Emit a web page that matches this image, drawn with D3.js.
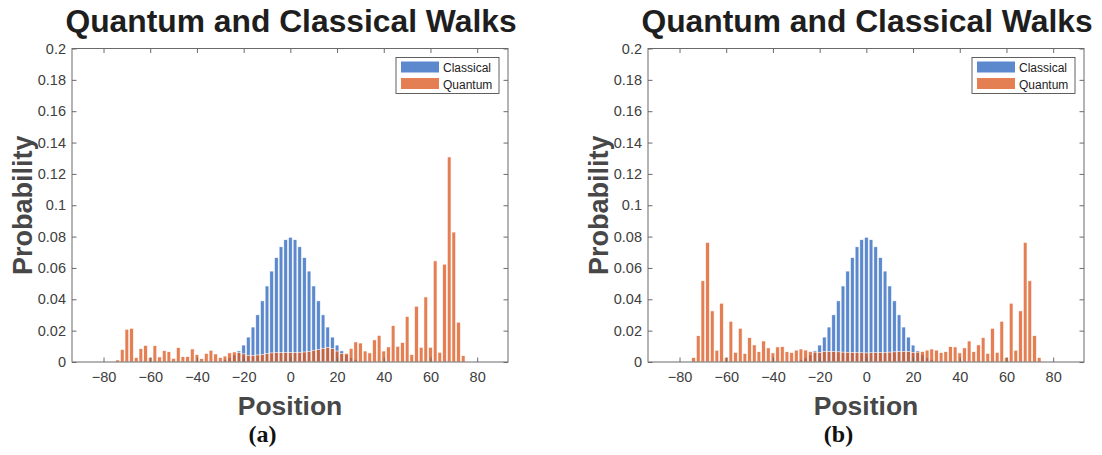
<!DOCTYPE html>
<html>
<head>
<meta charset="utf-8">
<script src="https://cdn.jsdelivr.net/npm/d3@7"></script>
<style>
  body { margin: 0; background: #fff; }
  svg { display: block; }
</style>
</head>
<body>
<svg id="chart" width="1102" height="455"></svg>
<script>
// Walker positions (only even sites are reachable after an even number of steps)
const classicalPositions = [-28, -26, -24, -22, -20, -18, -16, -14, -12, -10, -8, -6, -4, -2, 0,
  2, 4, 6, 8, 10, 12, 14, 16, 18, 20, 22, 24, 26, 28];
const classicalProb = [0.0016, 0.0027, 0.0045, 0.0071, 0.0108, 0.0159, 0.0223, 0.0301, 0.0390, 0.0485,
  0.0580, 0.0666, 0.0735, 0.0780, 0.0796, 0.0780, 0.0735, 0.0666, 0.0580, 0.0485, 0.0390, 0.0301,
  0.0223, 0.0159, 0.0108, 0.0071, 0.0045, 0.0027, 0.0016];

const quantumPositions = [-74, -72, -70, -68, -66, -64, -62, -60, -58, -56, -54, -52, -50, -48, -46,
  -44, -42, -40, -38, -36, -34, -32, -30, -28, -26, -24, -22, -20, -18, -16, -14, -12, -10, -8, -6,
  -4, -2, 0, 2, 4, 6, 8, 10, 12, 14, 16, 18, 20, 22, 24, 26, 28, 30, 32, 34, 36, 38, 40, 42, 44, 46,
  48, 50, 52, 54, 56, 58, 60, 62, 64, 66, 68, 70, 72, 74];

// (a) asymmetric initial coin state
const quantumProbA = [0.0013, 0.0080, 0.0209, 0.0215, 0.0028, 0.0085, 0.0106, 0.0030, 0.0104, 0.0032,
  0.0072, 0.0066, 0.0023, 0.0092, 0.0034, 0.0034, 0.0083, 0.0047, 0.0021, 0.0055, 0.0075, 0.0051,
  0.0028, 0.0038, 0.0058, 0.0064, 0.0060, 0.0052, 0.0043, 0.0041, 0.0045, 0.0049, 0.0053, 0.0058,
  0.0060, 0.0060, 0.0060, 0.0060, 0.0060, 0.0062, 0.0064, 0.0068, 0.0075, 0.0079, 0.0087, 0.0092,
  0.0085, 0.0070, 0.0055, 0.0055, 0.0087, 0.0128, 0.0121, 0.0070, 0.0058, 0.0141, 0.0170, 0.0070,
  0.0096, 0.0232, 0.0100, 0.0124, 0.0290, 0.0047, 0.0356, 0.0094, 0.0415, 0.0094, 0.0645, 0.0062,
  0.0624, 0.1308, 0.0829, 0.0254, 0.0040];

// (b) symmetric initial coin state
const quantumProbB = [0.0028, 0.0168, 0.0518, 0.0763, 0.0326, 0.0075, 0.0375, 0.0030, 0.0260, 0.0062,
  0.0215, 0.0055, 0.0155, 0.0109, 0.0066, 0.0134, 0.0090, 0.0058, 0.0096, 0.0098, 0.0066, 0.0060,
  0.0076, 0.0083, 0.0076, 0.0067, 0.0063, 0.0062, 0.0068, 0.0067, 0.0066, 0.0065, 0.0063, 0.0062,
  0.0061, 0.0060, 0.0059, 0.0058, 0.0059, 0.0060, 0.0061, 0.0062, 0.0063, 0.0065, 0.0066, 0.0067,
  0.0068, 0.0062, 0.0063, 0.0067, 0.0076, 0.0083, 0.0076, 0.0060, 0.0066, 0.0098, 0.0096, 0.0058,
  0.0090, 0.0134, 0.0066, 0.0109, 0.0155, 0.0055, 0.0215, 0.0062, 0.0260, 0.0030, 0.0375, 0.0075,
  0.0326, 0.0763, 0.0518, 0.0168, 0.0028];

const xTicks = [-80, -60, -40, -20, 0, 20, 40, 60, 80];
const yTicks = [0, 0.02, 0.04, 0.06, 0.08, 0.1, 0.12, 0.14, 0.16, 0.18, 0.2];
const seriesNames = ["Classical", "Quantum"];
const titleText = "Quantum and Classical Walks";
const xLabelText = "Position";
const yLabelText = "Probability";
const captions = ["(a)", "(b)"];

const COLORS = { classical: "#5C89CE", quantum: "#DC5A22" };
const QUANTUM_ALPHA = 0.78;
const AXIS_COLOR = "#6a6a6a";
const LABEL_COLOR = "#404040";
const FONT = "'Liberation Sans', Arial, Helvetica, sans-serif";

const svg = d3.select("#chart");

const plotW = 436, plotTop = 48.5, plotBottom = 362;
const panels = [
  { left: 72, quantum: quantumProbA, caption: captions[0], captionX: 262.5 },
  { left: 648, quantum: quantumProbB, caption: captions[1], captionX: 838.5 }
];

panels.forEach(panel => {
  const g = svg.append("g");
  const x = d3.scaleLinear().domain([-93.5, 93.2]).range([panel.left, panel.left + plotW]);
  const y = d3.scaleLinear().domain([0, 0.2]).range([plotBottom, plotTop]);
  const barW = x(1.6) - x(0);

  // Classical distribution
  g.append("g").selectAll("rect")
    .data(classicalPositions.map((p, i) => ({ p, v: classicalProb[i] })))
    .join("rect")
    .attr("x", d => x(d.p) - barW / 2)
    .attr("y", d => y(d.v))
    .attr("width", barW)
    .attr("height", d => y(0) - y(d.v))
    .attr("fill", COLORS.classical)
    .attr("stroke", "#fff")
    .attr("stroke-width", 0.6);

  // Quantum distribution, drawn semi-transparent over the classical bars
  g.append("g").selectAll("rect")
    .data(quantumPositions.map((p, i) => ({ p, v: panel.quantum[i] })))
    .join("rect")
    .attr("x", d => x(d.p) - barW / 2)
    .attr("y", d => y(d.v))
    .attr("width", barW)
    .attr("height", d => y(0) - y(d.v))
    .attr("fill", COLORS.quantum)
    .attr("fill-opacity", QUANTUM_ALPHA)
    .attr("stroke", "#fff")
    .attr("stroke-width", 0.6);

  // Axes with inward ticks on all four sides
  const tick = 4.5;
  const styleAxis = sel => {
    sel.select(".domain").remove();
    sel.selectAll(".tick line").attr("stroke", AXIS_COLOR);
    sel.selectAll(".tick text").attr("fill", LABEL_COLOR)
      .style("font-family", FONT).style("font-size", "14.5px");
  };
  g.append("g").attr("transform", `translate(0,${plotBottom})`)
    .call(d3.axisBottom(x).tickValues(xTicks).tickSize(-tick).tickPadding(9.5).tickFormat(d3.format("d")))
    .call(styleAxis);
  g.append("g").attr("transform", `translate(0,${plotTop})`)
    .call(d3.axisTop(x).tickValues(xTicks).tickSize(-tick).tickFormat(""))
    .call(styleAxis);
  g.append("g").attr("transform", `translate(${panel.left},0)`)
    .call(d3.axisLeft(y).tickValues(yTicks).tickSize(-tick).tickPadding(6).tickFormat(d => d === 0 ? "0" : String(+d.toFixed(2))))
    .call(styleAxis);
  g.append("g").attr("transform", `translate(${panel.left + plotW},0)`)
    .call(d3.axisRight(y).tickValues(yTicks).tickSize(-tick).tickFormat(""))
    .call(styleAxis);

  g.append("rect")
    .attr("x", panel.left).attr("y", plotTop)
    .attr("width", plotW).attr("height", plotBottom - plotTop)
    .attr("fill", "none").attr("stroke", AXIS_COLOR).attr("stroke-width", 1);

  // Title
  const cx = panel.left + plotW / 2;
  g.append("text")
    .attr("x", cx + 1).attr("y", 32)
    .attr("text-anchor", "middle")
    .style("font-family", FONT).style("font-weight", "bold").style("font-size", "31.8px")
    .attr("fill", "#1e1e1e")
    .text(titleText);

  // Axis labels
  g.append("text")
    .attr("x", cx).attr("y", 414.5)
    .attr("text-anchor", "middle")
    .style("font-family", FONT).style("font-weight", "bold").style("font-size", "26.5px")
    .attr("fill", "#474747")
    .text(xLabelText);
  g.append("text")
    .attr("transform", `translate(${panel.left - 40},${(plotTop + plotBottom) / 2}) rotate(-90)`)
    .attr("text-anchor", "middle")
    .style("font-family", FONT).style("font-weight", "bold").style("font-size", "27px")
    .attr("fill", "#474747")
    .text(yLabelText);

  // Panel caption
  g.append("text")
    .attr("x", panel.captionX).attr("y", 442)
    .attr("text-anchor", "middle")
    .style("font-family", "'Liberation Serif', 'Times New Roman', serif")
    .style("font-weight", "bold").style("font-size", "24px")
    .attr("fill", "#111")
    .text(panel.caption);

  // Legend
  const lg = g.append("g").attr("transform", `translate(${panel.left + 324},57.5)`);
  lg.append("rect").attr("width", 103).attr("height", 36)
    .attr("fill", "#fff").attr("stroke", "#3a3a3a").attr("stroke-width", 0.8);
  const legendColors = [
    { c: COLORS.classical, o: 1 },
    { c: COLORS.quantum, o: QUANTUM_ALPHA }
  ];
  seriesNames.forEach((name, i) => {
    lg.append("rect")
      .attr("x", 5).attr("y", 4 + i * 16.5)
      .attr("width", 38).attr("height", 11)
      .attr("fill", legendColors[i].c).attr("fill-opacity", legendColors[i].o);
    lg.append("text")
      .attr("x", 47).attr("y", 14.5 + i * 16.5)
      .style("font-family", FONT).style("font-size", "12px")
      .attr("fill", "#222")
      .text(name);
  });
});
</script>
</body>
</html>
